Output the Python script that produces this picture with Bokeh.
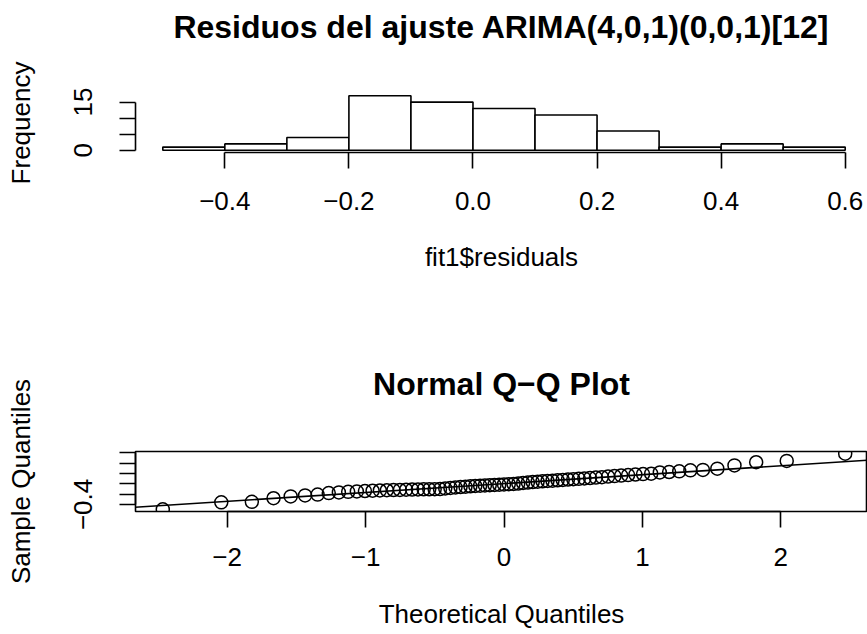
from statistics import NormalDist
import numpy as np
from bokeh.plotting import figure
from bokeh.layouts import column
from bokeh.models import Range1d, FixedTicker, Slope, LinearAxis
from bokeh.embed import file_html
from bokeh.resources import INLINE

# ---- data ----
residuals = [
    -0.495,
    -0.360, -0.350,
    -0.280, -0.245, -0.225, -0.210,
    -0.180, -0.167, -0.156, -0.147, -0.140, -0.134, -0.129, -0.125, -0.121,
    -0.118, -0.115, -0.112, -0.110, -0.108, -0.106, -0.104, -0.102,
    -0.090, -0.079, -0.070, -0.062, -0.055, -0.048, -0.042, -0.036, -0.031,
    -0.026, -0.021, -0.016, -0.011, -0.007, -0.003,
    0.006, 0.016, 0.025, 0.033, 0.041, 0.048, 0.055, 0.062, 0.069, 0.076,
    0.083, 0.090, 0.097,
    0.105, 0.113, 0.121, 0.130, 0.140, 0.150, 0.160, 0.170, 0.180, 0.189, 0.197,
    0.222, 0.229, 0.243, 0.262, 0.270, 0.295,
    0.358,
    0.420, 0.445,
    0.585,
]
breaks = [-0.5, -0.4, -0.3, -0.2, -0.1, 0.0, 0.1, 0.2, 0.3, 0.4, 0.5, 0.6]
hist_xticks = [-0.4, -0.2, 0.0, 0.2, 0.4, 0.6]
hist_xlabels = ["\u22120.4", "\u22120.2", "0.0", "0.2", "0.4", "0.6"]
hist_yticks = [0, 5, 10, 15]
hist_ylabels = ["0", "", "", "15"]
qq_xticks = [-2, -1, 0, 1, 2]
qq_xlabels = ["\u22122", "\u22121", "0", "1", "2"]
qq_yticks = [-0.4, -0.2, 0.0, 0.2, 0.4, 0.6]
qq_ylabels = ["\u22120.4", "", "", "", "", ""]
hist_title = "Residuos del ajuste ARIMA(4,0,1)(0,0,1)[12]"
qq_title = "Normal Q\u2212Q Plot"

FONT = "Liberation Sans"
AX_FS = "26px"
TITLE_FS = "32px"
LW = 1.6
W = 867
VIS = 732.0 / 737.0  # fraction of the R plot region visible in the window


def padded(lo, hi):
    d = (hi - lo) * 0.04
    return lo - d, hi + d


def style_axis(ax, ticks, labels, bounds):
    ax.ticker = FixedTicker(ticks=ticks)
    ax.major_label_overrides = {t: l for t, l in zip(ticks, labels)}
    ax.bounds = bounds
    ax.axis_line_color = "black"
    ax.axis_line_width = LW
    ax.major_tick_line_color = "black"
    ax.major_tick_line_width = LW
    ax.major_tick_in = 0
    ax.major_tick_out = 16
    ax.minor_tick_line_color = None
    ax.major_label_text_font = FONT
    ax.major_label_text_font_size = AX_FS
    ax.major_label_text_color = "black"
    ax.axis_label_text_font = FONT
    ax.axis_label_text_font_size = AX_FS
    ax.axis_label_text_font_style = "normal"
    ax.axis_label_text_color = "black"


def add_title(p, text, standoff):
    # the main title is drawn as the label of an otherwise empty top axis
    ax = LinearAxis(ticker=FixedTicker(ticks=[]), axis_label=text,
                    axis_line_color=None, major_tick_line_color=None,
                    minor_tick_line_color=None, major_tick_out=0, major_tick_in=0,
                    major_label_text_font_size="0px", major_label_standoff=0,
                    axis_label_standoff=standoff, axis_label_text_font=FONT,
                    axis_label_text_font_size=TITLE_FS,
                    axis_label_text_font_style="bold",
                    axis_label_text_color="black")
    p.add_layout(ax, "above")


def base_fig(xr, yr, top, bottom):
    p = figure(width=W, height=317, x_range=xr, y_range=yr,
               output_backend="svg", toolbar_location=None,
               min_border_left=135, min_border_right=0,
               min_border_top=top, min_border_bottom=bottom)
    p.grid.visible = False
    p.background_fill_color = "white"
    p.border_fill_color = "white"
    return p


# ---- histogram ----
counts, edges = np.histogram(residuals, bins=breaks)
hx0, hx1 = padded(breaks[0], breaks[-1])
hy0, hy1 = padded(0, int(counts.max()))
p1 = base_fig(Range1d(hx0, hx0 + (hx1 - hx0) * VIS), Range1d(hy0, hy1), 93, 165)
p1.outline_line_color = None
p1.quad(left=edges[:-1], right=edges[1:], bottom=0, top=counts,
        fill_color="white", line_color="black", line_width=LW)
style_axis(p1.xaxis[0], hist_xticks, hist_xlabels, (hist_xticks[0], hist_xticks[-1]))
style_axis(p1.yaxis[0], hist_yticks, hist_ylabels, (hist_yticks[0], hist_yticks[-1]))
p1.xaxis.axis_label = "fit1$residuals"
p1.yaxis.axis_label = "Frequency"
p1.yaxis.major_label_orientation = "vertical"
p1.xaxis.major_label_standoff = 23
p1.xaxis.axis_label_standoff = 29
p1.yaxis.major_label_standoff = 27
p1.yaxis.axis_label_standoff = 36
add_title(p1, hist_title, 49)

# ---- normal Q-Q plot ----
n = len(residuals)
nd = NormalDist()
sample = np.sort(np.array(residuals))
theo = np.array([nd.inv_cdf((i - 0.5) / n) for i in range(1, n + 1)])
qy = np.quantile(sample, [0.25, 0.75])
qx = np.array([nd.inv_cdf(0.25), nd.inv_cdf(0.75)])
slope = (qy[1] - qy[0]) / (qx[1] - qx[0])
intercept = qy[0] - slope * qx[0]

qx0, qx1 = padded(theo.min(), theo.max())
qy0, qy1 = padded(sample.min(), sample.max())
p2 = base_fig(Range1d(qx0, qx0 + (qx1 - qx0) * VIS), Range1d(qy0, qy1), 134, 123)
p2.outline_line_color = "black"
p2.outline_line_width = LW
p2.outline_line_alpha = 1.0
p2.scatter(theo, sample, marker="circle", size=13, fill_color=None,
           line_color="black", line_width=1.5)
p2.add_layout(Slope(gradient=slope, y_intercept=intercept,
                    line_color="black", line_width=LW))
style_axis(p2.xaxis[0], qq_xticks, qq_xlabels, (qq_xticks[0], qq_xticks[-1]))
style_axis(p2.yaxis[0], qq_yticks, qq_ylabels, (qq_yticks[0], qq_yticks[-1]))
p2.xaxis.axis_label = "Theoretical Quantiles"
p2.yaxis.axis_label = "Sample Quantiles"
p2.yaxis.major_label_orientation = "vertical"
p2.xaxis.major_label_standoff = 20
p2.xaxis.axis_label_standoff = 30
p2.yaxis.major_label_standoff = 27
p2.yaxis.axis_label_standoff = 36
add_title(p2, qq_title, 50)

layout = column(p1, p2, spacing=0)
open("out.html", "w").write(file_html(layout, INLINE))
